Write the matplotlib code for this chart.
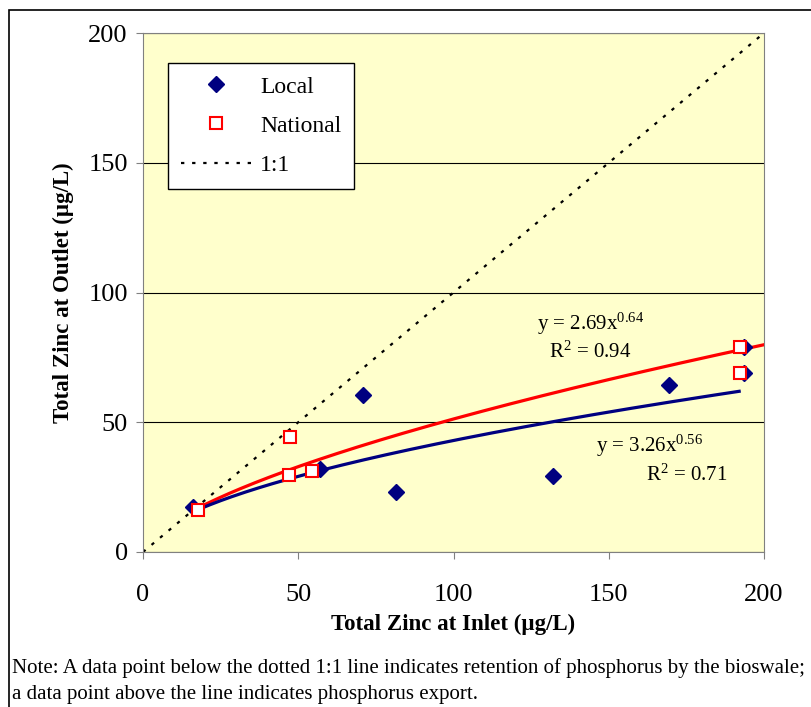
import matplotlib.pyplot as plt
import matplotlib.patches as patches
import numpy as np

plt.rcParams['font.family'] = ['Liberation Serif', 'DejaVu Serif']
plt.rcParams['mathtext.fontset'] = 'custom'
plt.rcParams['mathtext.rm'] = 'Liberation Serif'
plt.rcParams['mathtext.it'] = 'Liberation Serif:italic'

# Data
local_x = [16, 57, 71, 81.5, 132, 169.5, 193.5, 193.5]
local_y = [17.5, 32, 60.5, 23, 29.3, 64.5, 79, 69]
national_x = [17.7, 47.3, 47, 54.4, 192.3, 192.3]
national_y = [16.2, 44.3, 29.7, 31.2, 79, 69]

# Power trendlines given on the chart
local_fit = (3.26, 0.56, 19, 192)      # a, b, x start, x end
national_fit = (2.69, 0.64, 17.7, 200)

fig = plt.figure(figsize=(8.11, 7.07), dpi=100)
ax = fig.add_axes([143 / 811, 1 - 552 / 707, (764 - 143) / 811, (552 - 33) / 707])
ax.set_facecolor('#FFFFCC')
ax.set_xlim(0, 200)
ax.set_ylim(0, 200)
ax.set_xticks([0, 50, 100, 150, 200])
ax.set_yticks([0, 50, 100, 150, 200])
ax.yaxis.grid(True, color='black', linewidth=0.8)
ax.set_axisbelow(True)
for s in ax.spines.values():
    s.set_color('#808080')
ax.tick_params(direction='out', length=5, color='#808080', labelsize=19, pad=6)
ax.tick_params(axis='x', pad=18)

# 1:1 line
ax.plot([0, 200], [0, 200], color='black', linestyle=(0, (1.5, 3.5)), linewidth=1.6, label='1:1', zorder=2)

# trendlines
for (a, b, x0, x1), col in [(national_fit, '#FF0000'), (local_fit, '#000080')]:
    xs = np.linspace(x0, x1, 200)
    ax.plot(xs, a * xs ** b, color=col, linewidth=2.3, zorder=3)

ax.plot(local_x, local_y, linestyle='none', marker='D', markersize=8, color='#000080',
        label='Local', zorder=4)
ax.plot(national_x, national_y, linestyle='none', marker='s', markersize=9, markerfacecolor='white',
        markeredgecolor='#FF0000', markeredgewidth=1.5, label='National', zorder=5)

# equations
ax.text(144, 88, r'y = 2.69x$^{0.64}$', fontsize=15, ha='center', va='center')
ax.text(144, 77, r'R$^{2}$ = 0.94', fontsize=15, ha='center', va='center')
ax.text(163, 41, r'y = 3.26x$^{0.56}$', fontsize=15, ha='center', va='center')
ax.text(175, 29.5, r'R$^{2}$ = 0.71', fontsize=15, ha='center', va='center')

handles, labels = ax.get_legend_handles_labels()
order = [1, 2, 0]
leg = ax.legend([handles[i] for i in order], [labels[i] for i in order],
                loc='upper left', bbox_to_anchor=((168 - 143) / 621, (552 - 63) / 519),
                fontsize=17, frameon=True, fancybox=False, edgecolor='black',
                framealpha=1, borderpad=0.55, labelspacing=0.75, handlelength=3.0,
                handletextpad=0.35, borderaxespad=0)
leg.get_frame().set_linewidth(1.0)

ax.set_xlabel('Total Zinc at Inlet (µg/L)', fontsize=16.5, fontweight='bold', labelpad=6)
ax.set_ylabel('Total Zinc at Outlet (µg/L)', fontsize=16.5, fontweight='bold', labelpad=10)

# outer frame
fig.patches.append(patches.Rectangle((9 / 811, -0.1), 1.2, 1.1 - 10 / 707, transform=fig.transFigure,
                                     fill=False, edgecolor='black', linewidth=1.2))

fig.text(12 / 811, 1 - 668 / 707,
         'Note: A data point below the dotted 1:1 line indicates retention of phosphorus by the bioswale;',
         fontsize=15, va='center', ha='left')
fig.text(12 / 811, 1 - 694 / 707,
         'a data point above the line indicates phosphorus export.',
         fontsize=15, va='center', ha='left')

fig.savefig('out.png', dpi=100, facecolor='white')
